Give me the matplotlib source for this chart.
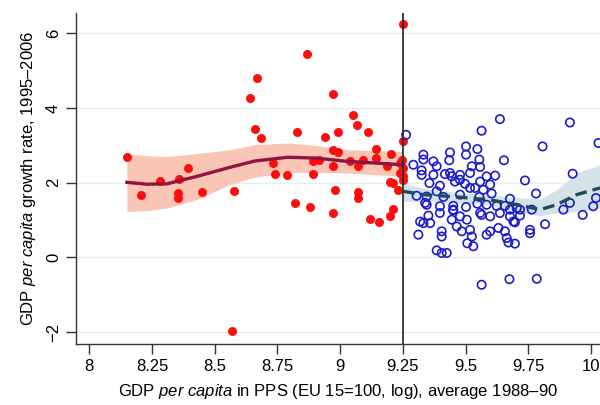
import matplotlib
matplotlib.use("Agg")
import matplotlib.pyplot as plt

plt.rcParams['font.family'] = ['Liberation Sans', 'DejaVu Sans']
plt.rcParams['mathtext.fontset'] = 'custom'
plt.rcParams['mathtext.rm'] = 'Liberation Sans'
plt.rcParams['mathtext.it'] = 'Liberation Sans:italic'

# regions below the threshold (filled red)
red_x = [8.150, 8.206, 8.283, 8.359, 8.392, 8.352, 8.352, 8.451, 8.579, 8.571,
         8.641, 8.669, 8.659, 8.684, 8.734, 8.741, 8.790, 8.830, 8.821, 8.870,
         8.880, 8.891, 8.891, 8.914, 8.940, 8.973, 8.973, 8.991, 8.991, 8.973,
         8.980, 8.973, 9.040, 9.051, 9.066, 9.073, 9.093, 9.070, 9.070, 9.113,
         9.120, 9.155, 9.143, 9.143, 9.186, 9.199, 9.199, 9.202, 9.212, 9.232,
         9.239, 9.239, 9.246, 9.250, 9.250, 9.250, 9.250, 9.250, 9.212]
red_y = [2.70, 1.66, 2.05, 2.10, 2.39, 1.72, 1.59, 1.74, 1.78, -1.96,
         4.27, 4.80, 3.44, 3.20, 2.54, 2.24, 2.21, 3.36, 1.46, 5.45,
         1.34, 2.57, 2.24, 2.62, 3.22, 4.36, 2.88, 2.81, 3.36, 2.46,
         1.81, 1.19, 2.57, 3.82, 3.53, 2.46, 2.62, 1.74, 1.59, 3.36,
         1.04, 0.96, 2.90, 2.66, 2.46, 2.01, 1.10, 2.77, 1.30, 1.81,
         2.53, 2.26, 2.62, 6.25, 3.12, 2.39, 2.08, 2.17, 1.99]

# regions above the threshold (hollow blue)
blue_x = [9.263, 9.637, 9.564, 9.916, 10.03, 9.807, 9.332, 9.438, 9.502, 9.547,
          9.502, 9.332, 9.372, 9.292, 9.435, 9.555, 9.653, 9.325, 9.385, 9.525,
          9.558, 9.372, 9.418, 9.445, 9.478, 9.518, 9.584, 9.618, 9.927, 9.737,
          9.356, 9.398, 9.458, 9.498, 9.558, 9.598, 9.538, 9.571, 9.385, 9.518,
          9.604, 9.781, 9.305, 9.345, 9.412, 9.478, 9.555, 9.677, 9.345, 9.398,
          9.451, 9.502, 9.547, 9.584, 9.624, 9.657, 9.704, 9.764, 9.890, 9.916,
          10.009, 10.02, 9.967, 9.398, 9.352, 9.451, 9.478, 9.564, 9.598, 9.637,
          9.677, 9.717, 9.332, 9.445, 9.505, 9.697, 9.817, 9.465, 9.485, 9.405,
          9.518, 9.598, 9.631, 9.657, 9.757, 9.312, 9.405, 9.525, 9.584, 9.664,
          9.757, 9.507, 9.531, 9.671, 9.697, 9.385, 9.425, 9.405, 9.564, 9.675,
          9.784, 9.325, 9.438, 9.478, 9.339, 9.451, 9.677, 9.717, 9.319, 9.359,
          9.558, 9.691]
blue_y = [3.28, 3.70, 3.39, 3.61, 3.06, 2.97, 2.75, 2.81, 2.97, 2.90,
          2.75, 2.62, 2.57, 2.48, 2.60, 2.62, 2.60, 2.33, 2.44, 2.44,
          2.42, 2.21, 2.23, 2.17, 2.21, 2.26, 2.17, 2.19, 2.24, 2.06,
          1.99, 1.92, 2.03, 1.97, 2.03, 1.95, 1.86, 1.81, 1.77, 1.86,
          1.71, 1.71, 1.65, 1.63, 1.62, 1.68, 1.62, 1.57, 1.41, 1.37,
          1.38, 1.35, 1.44, 1.41, 1.38, 1.38, 1.32, 1.28, 1.28, 1.46,
          1.37, 1.59, 1.14, 1.19, 1.12, 1.26, 1.10, 1.14, 1.10, 1.19,
          1.10, 1.12, 0.92, 1.01, 1.01, 0.94, 0.89, 0.83, 0.70, 0.70,
          0.74, 0.70, 0.79, 0.70, 0.74, 0.61, 0.56, 0.56, 0.61, 0.52,
          0.65, 0.38, 0.30, 0.40, 0.37, 0.19, 0.12, 0.12, -0.73, -0.58,
          -0.57, 2.21, 2.26, 2.08, 1.46, 1.28, 1.28, 1.28, 0.96, 0.92,
          1.19, 0.96]

# smoothed fits with confidence bands
red_fit_x = [8.15, 8.23, 8.31, 8.43, 8.56, 8.66, 8.79, 8.90, 9.03, 9.13, 9.25]
red_fit_y = [2.01, 1.96, 1.97, 2.17, 2.41, 2.58, 2.68, 2.66, 2.57, 2.53, 2.48]
red_hi = [2.78, 2.72, 2.70, 2.78, 2.88, 3.02, 3.06, 3.00, 2.88, 2.86, 2.84]
red_lo = [1.23, 1.25, 1.32, 1.55, 1.95, 2.15, 2.27, 2.28, 2.26, 2.22, 2.17]

blue_fit_x = [9.252, 9.332, 9.465, 9.598, 9.70, 9.797, 9.863, 9.943, 10.036]
blue_fit_y = [1.77, 1.68, 1.62, 1.54, 1.42, 1.28, 1.41, 1.68, 1.86]
blue_hi = [1.99, 1.85, 1.74, 1.68, 1.60, 1.56, 1.81, 2.26, 2.48]
blue_lo = [1.50, 1.49, 1.47, 1.41, 1.22, 1.12, 1.19, 1.23, 1.32]

xticks = [8, 8.25, 8.5, 8.75, 9, 9.25, 9.5, 9.75, 10]
xticklabels = ["8", "8.25", "8.5", "8.75", "9", "9.25", "9.5", "9.75", "10"]
yticks = [-2, 0, 2, 4, 6]
threshold = 9.25

fig = plt.figure(figsize=(6, 4.05), dpi=100)
ax = fig.add_axes([0.127, 0.151, 0.873, 0.817])

for y in yticks:
    ax.axhline(y, color="#e6edf1", lw=1, zorder=0)

ax.fill_between(red_fit_x, red_lo, red_hi, color="#fac5b5", lw=0, zorder=1)
ax.fill_between(blue_fit_x, blue_lo, blue_hi, color="#d5e2e8", lw=0, zorder=1)

ax.scatter(red_x, red_y, s=42, color="#ff0d0d", lw=0, zorder=3)
ax.scatter(blue_x, blue_y, s=36, facecolors="none", edgecolors="#1c1ccc",
           lw=1.2, zorder=3)

ax.plot(red_fit_x, red_fit_y, color="#8f1540", lw=2.4, zorder=4)
ax.plot(blue_fit_x, blue_fit_y, color="#1d4d5a", lw=2.4, dashes=(3.5, 1.8),
        zorder=4)

ax.axvline(threshold, color="#303030", lw=1.3, zorder=5)

ax.set_xlim(7.948, 10.036)
ax.set_ylim(-2.31, 6.54)

ax.set_xticks(xticks)
ax.set_xticklabels(xticklabels)
ax.set_yticks(yticks)
ax.tick_params(axis="both", labelsize=12, length=7, width=1, color="#333333",
               pad=4)
for lab in ax.get_yticklabels():
    lab.set_rotation(90)
    lab.set_va("center")

for side in ["top", "right"]:
    ax.spines[side].set_visible(False)
for side in ["left", "bottom"]:
    ax.spines[side].set_color("#333333")
    ax.spines[side].set_linewidth(1)

ax.set_xlabel(r"GDP $\it{per\ capita}$ in PPS (EU 15=100, log), average 1988–90",
              fontsize=12, labelpad=6)
ax.set_ylabel(r"GDP $\it{per\ capita}$ growth rate, 1995–2006", fontsize=12,
              labelpad=6)

fig.savefig("out.png", dpi=100)
